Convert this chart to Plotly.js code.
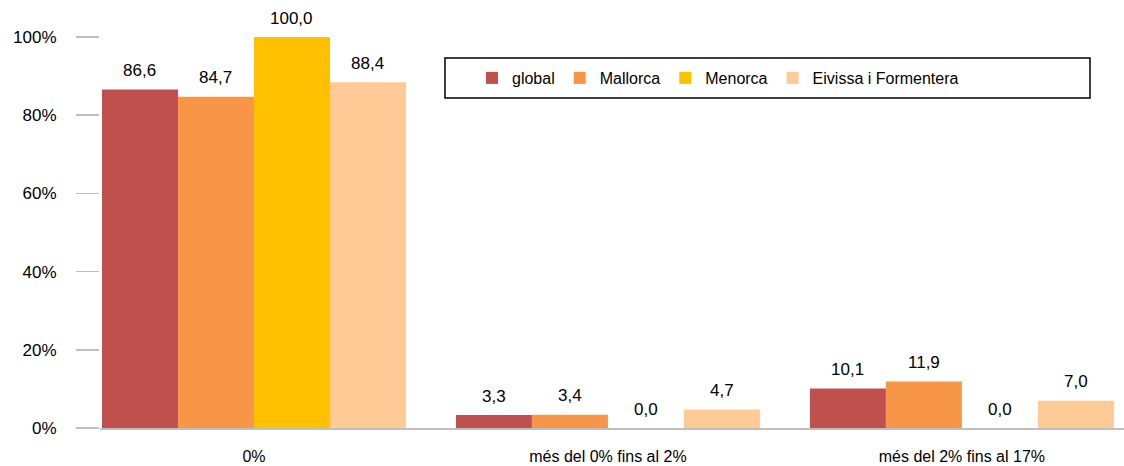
<!DOCTYPE html>
<html>
<head>
<meta charset="utf-8">
<script src="https://cdn.plot.ly/plotly-3.0.1.min.js"></script>
<style>html,body{margin:0;padding:0;background:#fff;}#chart{width:1124px;height:466px;}</style>
</head>
<body>
<div id="chart"></div>
<script>
const categories = ["0%", "més del 0% fins al 2%", "més del 2% fins al 17%"];
const seriesNames = ["global", "Mallorca", "Menorca", "Eivissa i Formentera"];
const globalVals = [86.6, 3.3, 10.1];
const mallorcaVals = [84.7, 3.4, 11.9];
const menorcaVals = [100.0, 0.0, 0.0];
const eivissaVals = [88.4, 4.7, 7.0];
const yTickVals = [0, 20, 40, 60, 80, 100];
const yTickText = ["0%", "20%", "40%", "60%", "80%", "100%"];
const colors = ["#C0504D", "#F79646", "#FFC000", "#FFCA96"];

const seriesVals = [globalVals, mallorcaVals, menorcaVals, eivissaVals];
const FONT = "Liberation Sans, Arial, sans-serif";
const bargap = 0.1412;

const traces = seriesVals.map((vals, i) => ({
  type: "bar",
  name: seriesNames[i],
  x: categories,
  y: vals,
  marker: {color: colors[i]},
  hoverinfo: "skip"
}));

// value labels via annotations, positioned from the data through the axis scales
const n = seriesVals.length;
const w = (1 - bargap) / n;
const annotations = [];
seriesVals.forEach((vals, i) => {
  vals.forEach((v, j) => {
    annotations.push({
      x: j - (1 - bargap) / 2 + (i + 0.5) * w,
      y: v,
      xref: "x", yref: "y",
      text: v.toFixed(1).replace(".", ","),
      showarrow: false,
      yanchor: "middle",
      yshift: 19,
      font: {family: FONT, size: 17, color: "#000"}
    });
  });
});

const layout = {
  width: 1124, height: 466,
  margin: {l: 100, r: 0, t: 37, b: 38},
  paper_bgcolor: "#fff", plot_bgcolor: "#fff",
  barmode: "group",
  bargap: bargap,
  bargroupgap: 0,
  font: {family: FONT, size: 16, color: "#000"},
  xaxis: {
    type: "category",
    range: [-0.435, 2.458],
    showline: true, linecolor: "#BFBFBF", linewidth: 2,
    showgrid: false, zeroline: false,
    ticks: "",
    ticklabelstandoff: 13,
    tickfont: {family: FONT, size: 16, color: "#000"}
  },
  yaxis: {
    range: [0, 100],
    tickvals: yTickVals, ticktext: yTickText,
    showgrid: false, zeroline: false, showline: false,
    ticks: "outside", ticklen: 23, tickcolor: "#BFBFBF", tickwidth: 1.5,
    ticklabelstandoff: 16,
    tickfont: {family: FONT, size: 17, color: "#000"}
  },
  showlegend: true,
  legend: {
    orientation: "h",
    x: (472 - 100) / 1024, xanchor: "left",
    y: (428 - 61) / 391, yanchor: "top",
    bgcolor: "rgba(0,0,0,0)",
    borderwidth: 0,
    font: {family: FONT, size: 16, color: "#000"},
    itemwidth: 30,
    traceorder: "normal"
  },
  shapes: [{
    type: "rect", xref: "paper", yref: "paper",
    x0: (445 - 100) / 1024, x1: (1090 - 100) / 1024,
    y0: (428 - 98) / 391, y1: (428 - 58) / 391,
    line: {color: "#000", width: 1.5}, fillcolor: "rgba(0,0,0,0)"
  }],
  annotations: annotations
};

Plotly.newPlot("chart", traces, layout, {displayModeBar: false, staticPlot: true});
</script>
</body>
</html>
